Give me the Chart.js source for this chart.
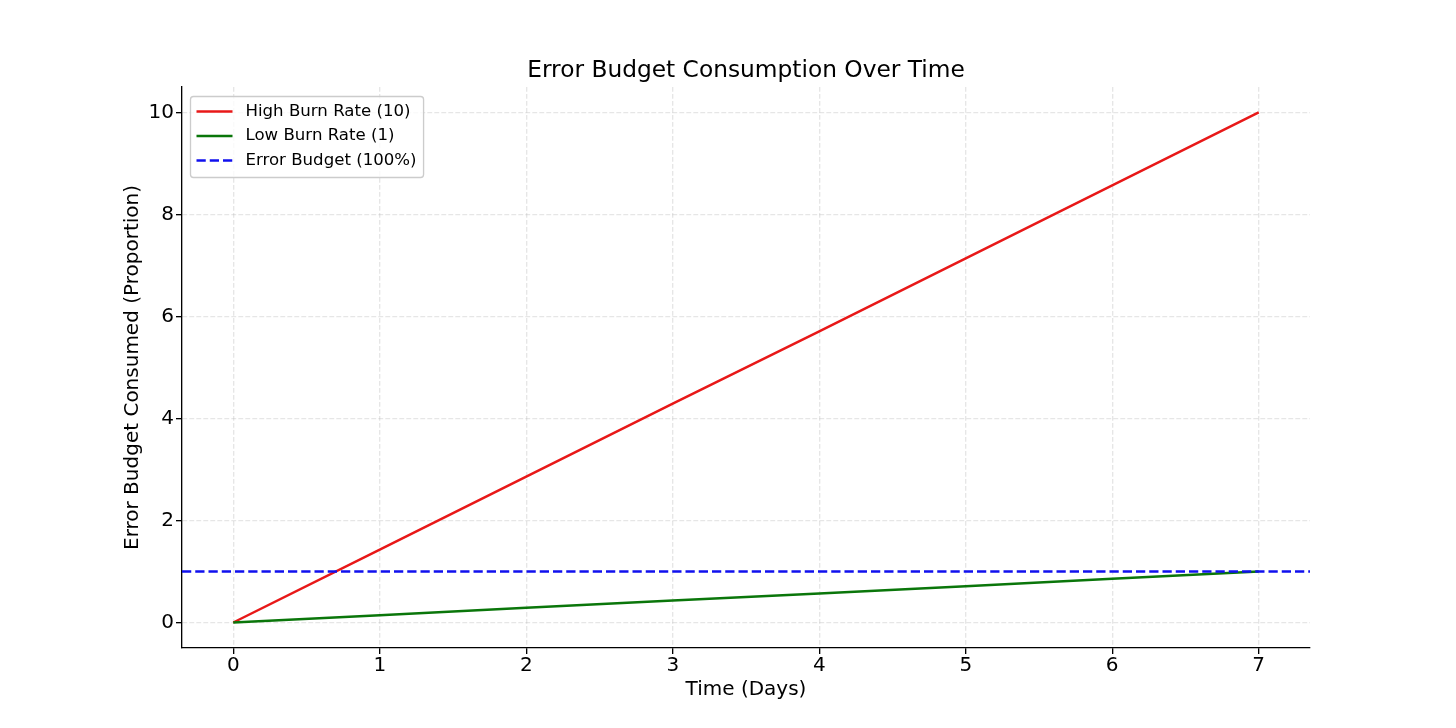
<!DOCTYPE html>
<html>
<head>
<meta charset="utf-8">
<script src="https://cdn.jsdelivr.net/npm/chart.js@4.4.1/dist/chart.umd.min.js"></script>
<style>
  html, body { margin: 0; padding: 0; background: #ffffff; }
  #wrap { width: 1456px; height: 728px; position: relative; }
</style>
</head>
<body>
<div id="wrap"><canvas id="c"></canvas></div>
<script>
// ---- data ----
const days = [0, 1, 2, 3, 4, 5, 6, 7];
const highBurn = [0, 1.43, 2.86, 4.29, 5.71, 7.14, 8.57, 10];
const lowBurn = [0, 0.14, 0.29, 0.43, 0.57, 0.71, 0.86, 1];
const budgetLevel = 1;
const xRange = [-0.35, 7.35];
const yRange = [-0.5, 10.5];
const xTicks = [0, 1, 2, 3, 4, 5, 6, 7];
const yTicks = [0, 2, 4, 6, 8, 10];
const seriesLabels = ['High Burn Rate (10)', 'Low Burn Rate (1)', 'Error Budget (100%)'];
const titleText = 'Error Budget Consumption Over Time';
const xTitle = 'Time (Days)';
const yTitle = 'Error Budget Consumed (Proportion)';

const FONT = "'DejaVu Sans', 'Liberation Sans', sans-serif";
const pts = (xs, ys) => xs.map((x, i) => ({ x: x, y: ys[i] }));

// centre the title over the plotting area (like matplotlib's axes title)
const titleCenterPlugin = {
  id: 'titleCenter',
  afterLayout(chart) {
    if (chart.titleBlock) {
      chart.titleBlock.left = chart.chartArea.left;
      chart.titleBlock.right = chart.chartArea.right;
    }
  }
};

const legendPlugin = {
  id: 'mplLegend',
  afterDraw(chart) {
    const ctx = chart.ctx;
    const area = chart.chartArea;
    const fs = 16.6;
    ctx.save();
    ctx.font = fs + 'px ' + FONT;
    const ds = chart.data.datasets.slice().sort((a, b) => a.legendIndex - b.legendIndex);
    let maxW = 0;
    ds.forEach(d => { maxW = Math.max(maxW, ctx.measureText(d.label).width); });
    const bx = area.left + 8.5, by = area.top + 9.5;
    const bw = 55 + maxW + 7, bh = 81;
    const r = 3;
    ctx.beginPath();
    ctx.moveTo(bx + r, by);
    ctx.lineTo(bx + bw - r, by);
    ctx.arcTo(bx + bw, by, bx + bw, by + r, r);
    ctx.lineTo(bx + bw, by + bh - r);
    ctx.arcTo(bx + bw, by + bh, bx + bw - r, by + bh, r);
    ctx.lineTo(bx + r, by + bh);
    ctx.arcTo(bx, by + bh, bx, by + bh - r, r);
    ctx.lineTo(bx, by + r);
    ctx.arcTo(bx, by, bx + r, by, r);
    ctx.closePath();
    ctx.fillStyle = 'rgba(255,255,255,0.8)';
    ctx.fill();
    ctx.strokeStyle = '#cccccc';
    ctx.lineWidth = 1.33;
    ctx.stroke();
    ds.forEach((d, i) => {
      const cy = by + 15 + i * 24.5;
      ctx.beginPath();
      ctx.setLineDash(d.borderDash || []);
      ctx.strokeStyle = d.borderColor;
      ctx.lineWidth = d.borderWidth;
      ctx.moveTo(bx + 6, cy);
      ctx.lineTo(bx + 42, cy);
      ctx.stroke();
      ctx.setLineDash([]);
      ctx.fillStyle = '#000000';
      ctx.textBaseline = 'middle';
      ctx.textAlign = 'left';
      ctx.fillText(d.label, bx + 55, cy);
    });
    ctx.restore();
  }
};

const gridCommon = {
  color: 'rgba(176,176,176,0.32)',
  lineWidth: 1.33,
  drawTicks: true,
  tickLength: 6,
  tickColor: '#000000',
  tickWidth: 1.33
};

new Chart(document.getElementById('c'), {
  type: 'line',
  data: {
    datasets: [
      {
        label: seriesLabels[2],
        legendIndex: 2,
        data: [{ x: xRange[0], y: budgetLevel }, { x: xRange[1], y: budgetLevel }],
        borderColor: '#1010ee',
        borderWidth: 2.5,
        borderDash: [9.25, 4],
        pointRadius: 0,
        fill: false,
        order: 0
      },
      {
        label: seriesLabels[1],
        legendIndex: 1,
        data: pts(days, lowBurn),
        borderColor: '#0a760a',
        borderWidth: 2.5,
        pointRadius: 0,
        fill: false,
        order: 1
      },
      {
        label: seriesLabels[0],
        legendIndex: 0,
        data: pts(days, highBurn),
        borderColor: '#e81818',
        borderWidth: 2.5,
        pointRadius: 0,
        fill: false,
        order: 2
      }
    ]
  },
  options: {
    responsive: true,
    maintainAspectRatio: false,
    animation: false,
    devicePixelRatio: 1,
    layout: { padding: { left: 0, right: 146, top: 0, bottom: 0 } },
    plugins: {
      legend: { display: false },
      tooltip: { enabled: false },
      title: {
        display: true,
        text: titleText,
        color: '#000000',
        font: { family: FONT, size: 23.3, weight: 'normal' },
        padding: { top: 56.5, bottom: 2.5 }
      }
    },
    scales: {
      x: {
        type: 'linear',
        min: xRange[0],
        max: xRange[1],
        afterBuildTicks: (axis) => { axis.ticks = xTicks.map(v => ({ value: v })); },
        afterFit: (scale) => { scale.height = 80; },
        grid: Object.assign({}, gridCommon),
        border: { display: true, color: '#000000', width: 1.33, dash: [4.9, 2.1] },
        ticks: {
          color: '#000000',
          font: { family: FONT, size: 20 },
          padding: 0,
          maxRotation: 0,
          autoSkip: false,
          callback: (v) => String(v)
        },
        title: {
          display: true,
          text: xTitle,
          color: '#000000',
          font: { family: FONT, size: 20 },
          padding: { top: 0, bottom: 26 }
        }
      },
      y: {
        type: 'linear',
        min: yRange[0],
        max: yRange[1],
        afterBuildTicks: (axis) => { axis.ticks = yTicks.map(v => ({ value: v })); },
        afterFit: (scale) => { scale.width = 182; },
        grid: Object.assign({}, gridCommon),
        border: { display: true, color: '#000000', width: 1.33, dash: [4.9, 2.1] },
        ticks: {
          color: '#000000',
          font: { family: FONT, size: 20 },
          padding: 2,
          autoSkip: false,
          callback: (v) => String(v)
        },
        title: {
          display: true,
          text: yTitle,
          color: '#000000',
          font: { family: FONT, size: 20 },
          padding: { top: 121, bottom: 0 }
        }
      }
    }
  },
  plugins: [titleCenterPlugin, legendPlugin]
});
</script>
</body>
</html>
